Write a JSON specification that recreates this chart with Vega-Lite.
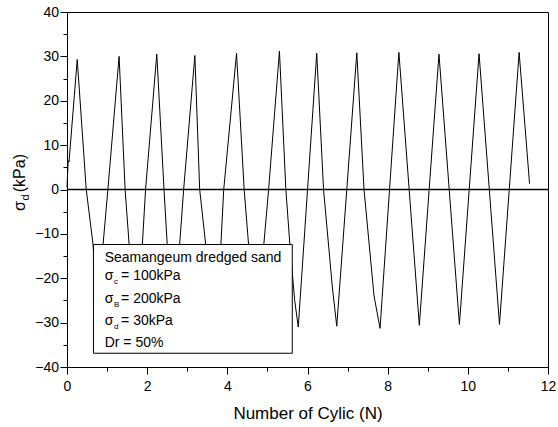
{
  "$schema": "https://vega.github.io/schema/vega-lite/v6.json",
  "width": 481,
  "height": 355,
  "autosize": "none",
  "padding": {"left": 67, "top": 12, "right": 10, "bottom": 60},
  "background": "white",
  "config": {
    "font": "Liberation Sans",
    "view": {"stroke": "black", "strokeWidth": 1},
    "axis": {
      "grid": false,
      "domainColor": "black",
      "domainWidth": 1,
      "tickColor": "black",
      "tickWidth": 1,
      "labelColor": "black",
      "titleColor": "black",
      "labelFont": "Liberation Sans",
      "titleFont": "Liberation Sans",
      "titleFontWeight": "normal"
    }
  },
  "datasets": {
    "curve": [
      {"n": 0.0, "s": 0.5}, {"n": 0.03, "s": 6.5}, {"n": 0.05, "s": 6.2}, {"n": 0.255, "s": 29.3},
      {"n": 0.48, "s": 0}, {"n": 0.65, "s": -12.4}, {"n": 0.78, "s": -31}, {"n": 0.9, "s": -12.4}, {"n": 1.02, "s": 0},
      {"n": 1.3, "s": 30.0}, {"n": 1.45, "s": 0}, {"n": 1.55, "s": -12.4}, {"n": 1.72, "s": -31}, {"n": 1.88, "s": -12.4}, {"n": 1.96, "s": 0},
      {"n": 2.24, "s": 30.5}, {"n": 2.42, "s": 0}, {"n": 2.5, "s": -12.4}, {"n": 2.66, "s": -31}, {"n": 2.81, "s": -12.4}, {"n": 2.91, "s": 0},
      {"n": 3.19, "s": 30.2}, {"n": 3.31, "s": 0}, {"n": 3.46, "s": -12.4}, {"n": 3.64, "s": -31}, {"n": 3.84, "s": -12.4}, {"n": 3.91, "s": 0},
      {"n": 4.23, "s": 30.7}, {"n": 4.42, "s": 0}, {"n": 4.53, "s": -12.4}, {"n": 4.75, "s": -31}, {"n": 4.91, "s": -12.4}, {"n": 5.03, "s": 0},
      {"n": 5.3, "s": 31.2}, {"n": 5.46, "s": 0}, {"n": 5.56, "s": -12.4}, {"n": 5.68, "s": -25}, {"n": 5.77, "s": -31.0},
      {"n": 6.23, "s": 30.7}, {"n": 6.4, "s": 0}, {"n": 6.62, "s": -22}, {"n": 6.73, "s": -30.8},
      {"n": 7.23, "s": 30.8}, {"n": 7.41, "s": 0}, {"n": 7.66, "s": -24}, {"n": 7.81, "s": -31.3},
      {"n": 8.28, "s": 30.9}, {"n": 8.79, "s": -30.6},
      {"n": 9.28, "s": 30.5}, {"n": 9.79, "s": -30.4},
      {"n": 10.28, "s": 30.6}, {"n": 10.79, "s": -30.4},
      {"n": 11.28, "s": 30.9}, {"n": 11.54, "s": 1.3}
    ],
    "box": [{"x1": 0.66, "x2": 5.62, "y1": -12.4, "y2": -36.9}],
    "legend": [
      {"y": -16.3, "label": "Seamangeum dredged sand", "sub": ""},
      {"y": -20.5, "label": "σ\u00a0\u00a0= 100kPa", "sub": "c"},
      {"y": -25.5, "label": "σ\u00a0\u00a0= 200kPa", "sub": "B"},
      {"y": -30.5, "label": "σ\u00a0\u00a0= 30kPa", "sub": "d"},
      {"y": -35.5, "label": "Dr = 50%", "sub": ""}
    ]
  },
  "layer": [
    {
      "data": {"name": "curve"},
      "mark": {"type": "line", "color": "black", "strokeWidth": 1},
      "encoding": {
        "x": {
          "field": "n", "type": "quantitative",
          "scale": {"domain": [0, 12], "nice": false, "zero": false},
          "axis": {
            "orient": "bottom",
            "values": [0, 2, 4, 6, 8, 10, 12],
            "tickSize": 7,
            "labelPadding": 5,
            "labelFontSize": 14,
            "labelFlush": false,
            "format": "d",
            "title": "Number of Cylic (N)",
            "titleFontSize": 17,
            "titleBaseline": "alphabetic",
            "titleY": 51
          }
        },
        "y": {
          "field": "s", "type": "quantitative",
          "scale": {"domain": [-40, 40], "nice": false, "zero": false},
          "axis": {
            "orient": "left",
            "values": [-40, -30, -20, -10, 0, 10, 20, 30, 40],
            "tickSize": 7,
            "labelPadding": 1.5,
            "labelFontSize": 14,
            "format": "d",
            "title": "σ\u00a0\u00a0(kPa)",
            "titleFontSize": 16,
            "titleAngle": 270,
            "titleAlign": "center",
            "titleBaseline": "alphabetic",
            "titleX": -43,
            "titleY": 170
          }
        }
      }
    },
    {
      "data": {"values": [{"s": 0}]},
      "mark": {"type": "rule", "color": "black", "strokeWidth": 1.5},
      "encoding": {
        "y": {
          "field": "s", "type": "quantitative",
          "axis": {
            "orient": "left",
            "values": [-35, -25, -15, -5, 5, 15, 25, 35],
            "tickSize": 4,
            "labels": false,
            "domain": false,
            "title": "d",
            "titleFontSize": 11,
            "titleAngle": 270,
            "titleAlign": "center",
            "titleBaseline": "alphabetic",
            "titleX": -39,
            "titleY": 185
          }
        }
      }
    },
    {
      "data": {"name": "box"},
      "mark": {"type": "rect", "fill": "white", "stroke": "black", "strokeWidth": 1},
      "encoding": {
        "x": {
          "field": "x1", "type": "quantitative",
          "axis": {
            "orient": "bottom",
            "values": [1, 3, 5, 7, 9, 11],
            "tickSize": 4,
            "labels": false,
            "domain": false,
            "title": null
          }
        },
        "x2": {"field": "x2"},
        "y": {"field": "y1", "type": "quantitative", "axis": null},
        "y2": {"field": "y2"}
      }
    },
    {
      "data": {"name": "legend"},
      "mark": {"type": "text", "align": "left", "baseline": "alphabetic", "fontSize": 14, "color": "black"},
      "encoding": {
        "x": {"datum": 0.94, "type": "quantitative", "axis": null},
        "y": {"field": "y", "type": "quantitative", "axis": null},
        "text": {"field": "label"}
      }
    },
    {
      "data": {"name": "legend"},
      "transform": [{"filter": "datum.sub != ''"}],
      "mark": {"type": "text", "align": "left", "baseline": "alphabetic", "fontSize": 8, "dx": 9.2, "dy": 4, "color": "black"},
      "encoding": {
        "x": {"datum": 0.94, "type": "quantitative", "axis": null},
        "y": {"field": "y", "type": "quantitative", "axis": null},
        "text": {"field": "sub"}
      }
    }
  ],
  "resolve": {"axis": {"x": "independent", "y": "independent"}}
}
